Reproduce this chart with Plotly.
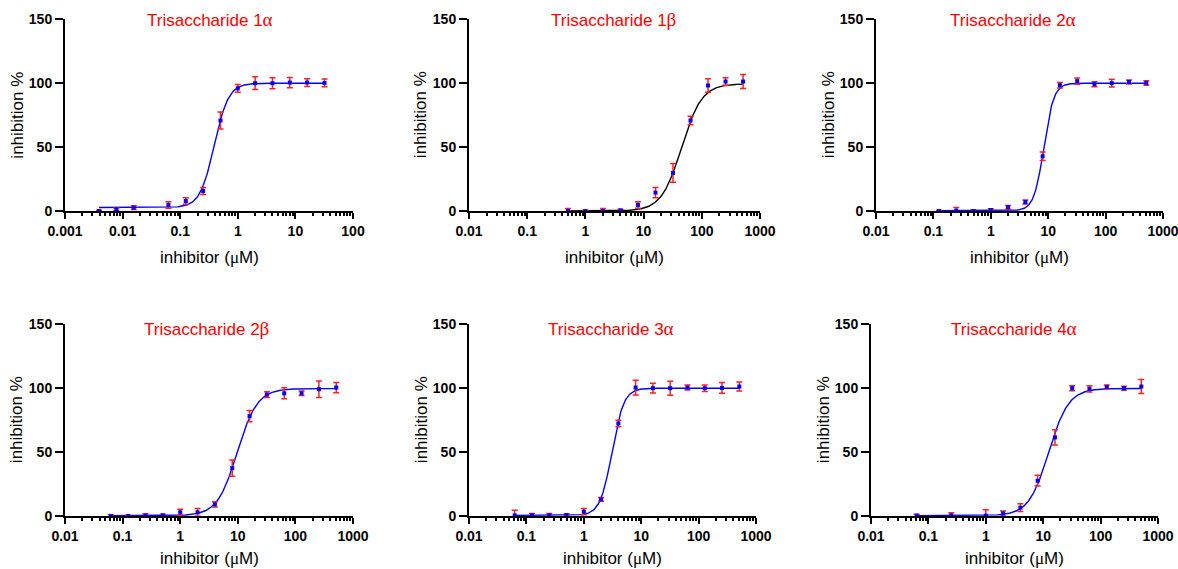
import numpy as np
import plotly.graph_objects as go

# ---- measured inhibition data (mean ± SD) for each trisaccharide ----
conc_1a = [0.0039, 0.0078, 0.0156, 0.0625, 0.125, 0.25, 0.5, 1, 2, 4, 8, 16, 32]
inh_1a = [0.0, 1.3, 2.6, 4.7, 7.8, 15.7, 70.8, 96.0, 100.0, 100.0, 100.5, 100.5, 100.2]
sd_1a = [0.5, 1.0, 1.5, 2.6, 2.5, 2.7, 6.6, 3.0, 5.0, 4.3, 4.0, 3.0, 3.0]

conc_1b = [0.5, 1, 2, 4, 8, 16, 32, 64, 128, 256, 512]
inh_1b = [0.0, 0.0, 0.0, 0.5, 4.7, 14.4, 29.8, 70.8, 98.2, 101.3, 101.3]
sd_1b = [2.0, 0.5, 2.0, 0.8, 2.5, 4.0, 7.4, 3.3, 5.3, 3.0, 5.5]

conc_2a = [0.125, 0.25, 0.5, 1, 2, 4, 8, 16, 32, 64, 128, 256, 512]
inh_2a = [0.0, 0.3, 0.0, 0.8, 2.9, 7.0, 42.8, 98.4, 101.6, 99.2, 100.0, 101.0, 100.2]
sd_2a = [0.5, 2.5, 1.0, 1.0, 1.5, 1.6, 3.3, 2.2, 2.5, 2.0, 3.0, 1.6, 1.8]

conc_2b = [0.0625, 0.125, 0.25, 0.5, 1, 2, 4, 8, 16, 32, 64, 128, 256, 512]
inh_2b = [0.0, 0.0, 0.3, 0.5, 2.9, 2.9, 9.1, 37.5, 78.1, 95.0, 96.0, 96.0, 99.2, 100.5]
sd_2b = [1.0, 0.5, 1.5, 0.8, 2.4, 3.0, 2.0, 6.4, 4.4, 2.2, 4.3, 1.8, 6.5, 4.0]

conc_3a = [0.0625, 0.125, 0.25, 0.5, 1, 2, 4, 8, 16, 32, 64, 128, 256, 512]
inh_3a = [0.5, 0.5, 0.5, 0.8, 3.4, 13.0, 72.4, 100.5, 100.0, 100.0, 100.5, 100.0, 100.2, 101.3]
sd_3a = [4.0, 1.5, 1.5, 1.0, 2.5, 1.5, 2.6, 5.8, 3.8, 5.5, 2.0, 2.5, 4.2, 3.5]

conc_4a = [0.0625, 0.25, 1, 2, 4, 8, 16, 32, 64, 128, 256, 512]
inh_4a = [0.3, 0.5, 0.3, 2.0, 6.5, 27.6, 61.5, 100.0, 99.5, 101.0, 100.0, 101.3]
sd_4a = [1.0, 2.0, 4.5, 2.0, 3.0, 4.2, 6.0, 2.0, 2.5, 1.6, 1.6, 5.5]

# four-parameter logistic fit results: bottom, top, EC50 (µM), Hill slope
fit_1a = [2.7, 100.0, 0.39, 3.5]
fit_1b = [0.0, 99.5, 45.0, 2.5]
fit_2a = [0.2, 100.0, 8.4, 5.0]
fit_2b = [0.2, 99.7, 9.8, 2.5]
fit_3a = [0.5, 100.0, 3.1, 4.2]
fit_4a = [0.3, 99.8, 12.5, 2.5]

panel_titles = ["Trisaccharide 1α", "Trisaccharide 1β", "Trisaccharide 2α",
                "Trisaccharide 2β", "Trisaccharide 3α", "Trisaccharide 4α"]
x_tick_vals = [0.001, 0.01, 0.1, 1, 10, 100, 1000]
x_tick_text = ["0.001", "0.01", "0.1", "1", "10", "100", "1000"]
y_tick_vals = [0, 50, 100, 150]

W, H = 1178, 569
FONT = "Arial, 'Liberation Sans', sans-serif"
GREEK = "'Liberation Serif', 'DejaVu Serif', serif"

panels = [
    dict(conc=conc_1a, inh=inh_1a, sd=sd_1a, fit=fit_1a, curve="#0000FF",
         xr=(-3, 2), px=(65, 353), row=0, title_x=209.5, ytitle_x=17.5),
    dict(conc=conc_1b, inh=inh_1b, sd=sd_1b, fit=fit_1b, curve="#000000",
         xr=(-2, 3), px=(469, 760), row=0, title_x=613.5, ytitle_x=420),
    dict(conc=conc_2a, inh=inh_2a, sd=sd_2a, fit=fit_2a, curve="#0000FF",
         xr=(-2, 3), px=(876, 1163), row=0, title_x=1013, ytitle_x=828),
    dict(conc=conc_2b, inh=inh_2b, sd=sd_2b, fit=fit_2b, curve="#0000FF",
         xr=(-2, 3), px=(65, 353), row=1, title_x=206, ytitle_x=16),
    dict(conc=conc_3a, inh=inh_3a, sd=sd_3a, fit=fit_3a, curve="#0000FF",
         xr=(-2, 3), px=(469, 756), row=1, title_x=611, ytitle_x=421),
    dict(conc=conc_4a, inh=inh_4a, sd=sd_4a, fit=fit_4a, curve="#0000FF",
         xr=(-2, 3), px=(871, 1158), row=1, title_x=1014, ytitle_x=823),
]

# pixel extents of the value axis (y=150 top, y=0 bottom) per row
row_px = [(19.3, 211.0), (324.3, 516.0)]
row_xtitle_y = [257, 558.5]
row_title_y = [20, 328.3]


def logistic(x, bottom, top, ec50, hill):
    return bottom + (top - bottom) / (1.0 + (ec50 / x) ** hill)


def minor_vals(lo, hi):
    vals = []
    for e in range(lo, hi):
        for m in range(2, 10):
            vals.append(m * 10.0 ** e)
    return vals


fig = go.Figure()
layout = dict(width=W, height=H, margin=dict(l=0, r=0, t=0, b=0, pad=0, autoexpand=False),
              paper_bgcolor="white", plot_bgcolor="white", showlegend=False)
annotations = []

for i, p in enumerate(panels):
    n = i + 1
    xa = "x" if n == 1 else f"x{n}"
    ya = "y" if n == 1 else f"y{n}"
    top_px, bot_px = row_px[p["row"]]

    # fitted dose-response curve
    xs = np.logspace(np.log10(min(p["conc"])), np.log10(max(p["conc"])), 300)
    ys = logistic(xs, *p["fit"])
    fig.add_trace(go.Scatter(x=xs, y=ys, mode="lines", xaxis=xa, yaxis=ya,
                             line=dict(color=p["curve"], width=1.4),
                             hoverinfo="skip"))
    # mean ± SD points
    fig.add_trace(go.Scatter(x=p["conc"], y=p["inh"], mode="markers",
                             xaxis=xa, yaxis=ya, cliponaxis=False,
                             marker=dict(symbol="square", size=4, color="#0000FF",
                                         line=dict(width=0)),
                             error_y=dict(type="data", array=p["sd"], visible=True,
                                          color="#FF2020", thickness=1.5, width=3)))

    axis_x = dict(type="log", range=list(p["xr"]), automargin=False,
                  domain=[p["px"][0] / W, p["px"][1] / W], anchor=ya,
                  showline=True, linewidth=2, linecolor="black",
                  showgrid=False, zeroline=False, ticklabeloverflow="allow",
                  ticks="outside", ticklen=6, tickwidth=2, tickcolor="black",
                  tickmode="array", tickvals=x_tick_vals, ticktext=x_tick_text,
                  tickfont=dict(family=FONT, size=14, color="black", weight="bold"),
                  minor=dict(tickmode="array", tickvals=minor_vals(p["xr"][0], p["xr"][1]),
                             ticks="outside", ticklen=3, tickwidth=1.5,
                             tickcolor="black", showgrid=False))
    axis_y = dict(range=[0, 150], domain=[1 - bot_px / H, 1 - top_px / H], anchor=xa,
                  automargin=False, ticklabeloverflow="allow",
                  showline=True, linewidth=2, linecolor="black",
                  showgrid=False, zeroline=False,
                  ticks="outside", ticklen=8, tickwidth=2, tickcolor="black",
                  tickmode="array", tickvals=y_tick_vals,
                  tickfont=dict(family=FONT, size=14, color="black", weight="bold"))
    layout["xaxis" if n == 1 else f"xaxis{n}"] = axis_x
    layout["yaxis" if n == 1 else f"yaxis{n}"] = axis_y

    # panel title (red) with the anomer letter set in a serif face
    name, greek = panel_titles[i][:-1], panel_titles[i][-1]
    annotations.append(dict(
        x=p["title_x"] / W, y=1 - row_title_y[p["row"]] / H, xref="paper", yref="paper",
        xanchor="center", yanchor="middle", showarrow=False,
        text=f"{name}<span style=\"font-family:{GREEK}; font-size:19px\">{greek}</span>",
        font=dict(family=FONT, size=17, color="#FF0000")))
    # axis titles
    annotations.append(dict(
        x=(p["px"][0] + p["px"][1]) / 2 / W, y=1 - row_xtitle_y[p["row"]] / H,
        xref="paper", yref="paper", xanchor="center", yanchor="middle", showarrow=False,
        text=f"inhibitor (<span style=\"font-family:{GREEK}\">μ</span>M)",
        font=dict(family=FONT, size=17, color="black")))
    annotations.append(dict(
        x=p["ytitle_x"] / W, y=1 - (top_px + bot_px) / 2 / H,
        xref="paper", yref="paper", xanchor="center", yanchor="middle", showarrow=False,
        textangle=-90, text="inhibition %",
        font=dict(family=FONT, size=17, color="black")))

layout["annotations"] = annotations
fig.update_layout(**layout)
fig.write_html("out.html")
